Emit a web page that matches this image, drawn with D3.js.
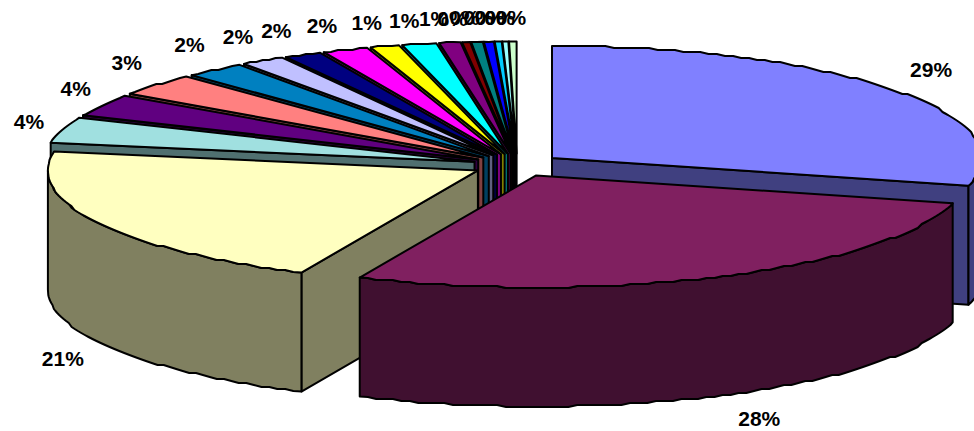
<!DOCTYPE html>
<html><head><meta charset="utf-8">
<script src="https://cdn.jsdelivr.net/npm/d3@7"></script>
<style>html,body{margin:0;padding:0;background:#fff}svg{display:block}</style>
</head><body><div id="c"></div>
<script>
const values=[29,27.73,20.97,3.74,3.2,3.22,2.3,1.67,1.41,1.72,1.09,1.29,0.8,0.3,0.43,0.37,0.26,0.22,0.28];
const labels=["29%","28%","21%","4%","4%","3%","2%","2%","2%","2%","1%","1%","1%","0%","0%","0%","0%","0%","0%"];
const colors=["#8080ff","#802060","#ffffc0","#a0e0e0","#600080","#ff8080","#0080c0","#c0c0ff","#000080","#ff00ff","#ffff00","#00ffff","#800080","#800000","#008080","#0000ff","#00ccff","#99ffff","#ccffcc"];
const labelNudge=[[2,-2],[9,-1],[4,3],[8,0],[13,-3],[7,-4],[8,-3],[6,0],[2,0],[2,0],[4,0],[4,0],[0,0],[0,0],[0,0],[0,0],[0,0],[1,0],[2,0]];
const W=974,H=431,DEPTH=119,EXPLODE=0.103,CX=517,CY=165,RX=430,RY=112,GRID=2,STEP=9;
const sx=d3.scaleLinear().domain([-1,1]).range([CX-RX,CX+RX]);
const sy=d3.scaleLinear().domain([-1,1]).range([CY-RY,CY+RY]);
const svg=d3.select("#c").append("svg").attr("width",W).attr("height",H);
const arcs=d3.pie().sort(null).value(d=>d)(values).map((a,i)=>({...a,i}));
const dir=t=>[Math.sin(t),-Math.cos(t)];
const line=d3.line().curve(d3.curveLinear);
function geom(a){
  const m=(a.startAngle+a.endAngle)/2,[ex,ey]=dir(m);
  const ox=EXPLODE*ex,oy=EXPLODE*ey;
  const pt=t=>{const [x,y]=dir(t);return [sx(x+ox),sy(y+oy)];};
  return {apex:[sx(ox),sy(oy)],pt,m};
}
// the rim is a fine stepped polyline, as in the faceted outline of the original renderer
function rim(pt,t0,t1){
  const n=Math.max(1,Math.ceil((t1-t0)*RX/STEP));
  return d3.range(n+1).map(k=>{
    const p=pt(t0+(t1-t0)*k/n);
    return (k===0||k===n)?p:[p[0],Math.round(p[1]/GRID)*GRID];
  });
}
const down=p=>[p[0],p[1]+DEPTH];
function drawSlice(a){
  const g=svg.append("g"),{apex,pt}=geom(a),c=colors[a.i];
  const base=d3.rgb(c);const wall=d3.rgb(base.r/2,base.g/2,base.b/2).formatHex();
  const face=pts=>g.append("path").attr("d",line(pts)+"Z").attr("stroke","#000").attr("stroke-width",2).attr("stroke-linejoin","round");
  if(Math.sin(a.startAngle)<0){const e=pt(a.startAngle);face([apex,e,down(e),down(apex)]).attr("fill",wall);}
  if(Math.sin(a.endAngle)>0){const e=pt(a.endAngle);face([apex,e,down(e),down(apex)]).attr("fill",wall);}
  const t0=Math.max(a.startAngle,Math.PI/2),t1=Math.min(a.endAngle,1.5*Math.PI);
  if(t1>t0){const r=rim(pt,t0,t1);face(r.concat(r.slice().reverse().map(down))).attr("fill",wall);}
  face([apex].concat(rim(pt,a.startAngle,a.endAngle))).attr("fill",c);
}
const order=d3.range(values.length-1,1,-1).concat([0,1]);
order.forEach(i=>drawSlice(arcs[i]));
arcs.forEach(a=>{
  const {pt,m}=geom(a),[dx,dy]=dir(m),p=pt(m);
  const lx=p[0]+42*Math.sign(dx)*Math.sqrt(Math.abs(dx))+labelNudge[a.i][0];
  const ly=p[1]+(dy>0?DEPTH:0)+24*Math.max(-1,Math.min(1,dy*1.2))+labelNudge[a.i][1];
  svg.append("text").attr("x",lx).attr("y",ly).attr("text-anchor","middle").attr("dominant-baseline","central")
    .attr("font-family","'Liberation Sans',Arial,sans-serif").attr("font-weight","bold").attr("font-size",21).attr("fill","#000").text(labels[a.i]);
});
</script></body></html>
